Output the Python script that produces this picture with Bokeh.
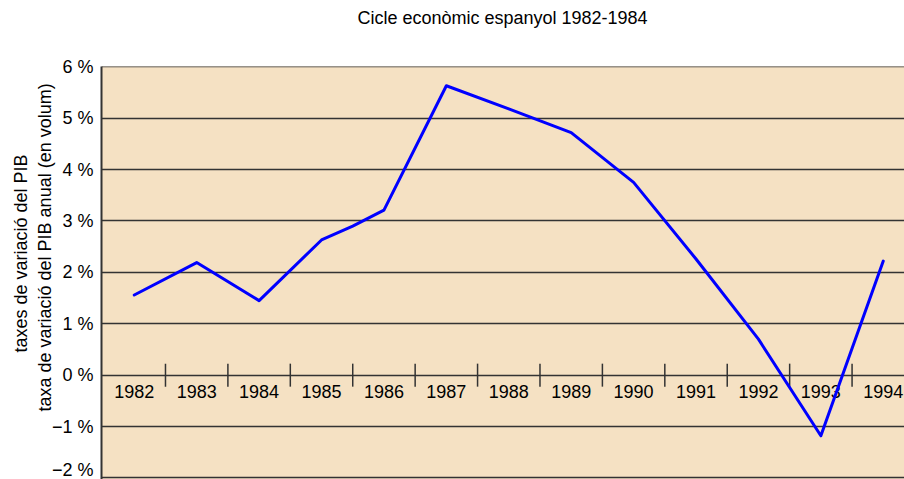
import math
from bokeh.plotting import figure
from bokeh.models import FixedTicker, Range1d, ColumnDataSource, Title, Div
from bokeh.layouts import column
from bokeh.core.properties import value
from bokeh.embed import file_html
from bokeh.resources import INLINE

# ---- data ----
title_text = "Cicle econòmic espanyol 1982-1984"
ylabel_1 = "taxes de variació del PIB"
ylabel_2 = "taxa de variació del PIB anual (en volum)"

years = [1982, 1983, 1984, 1985, 1986, 1987, 1988, 1989, 1990, 1991, 1992, 1993, 1994]
year_labels = [str(y) for y in years]

# line points (year position, % growth), incl. one mid-year point
line_x = [1982, 1983, 1984, 1985, 1985.5, 1986, 1987, 1988, 1989, 1990, 1991, 1992, 1993, 1994]
line_y = [1.56, 2.19, 1.45, 2.63, 2.90, 3.21, 5.63, 5.18, 4.72, 3.75, 2.26, 0.70, -1.18, 2.22]

y_ticks = [-2, -1, 0, 1, 2, 3, 4, 5, 6]
y_tick_labels = ["\u22122 %", "\u22121 %", "0 %", "1 %", "2 %", "3 %", "4 %", "5 %", "6 %"]

FONT = "Liberation Sans"
FS = "18px"
BG = "#F5E1C3"
DARK = "#333333"

title_div = Div(text=title_text, width=904, height=40, margin=0,
                styles={"box-sizing": "border-box", "padding-top": "8px", "padding-left": "101px",
                        "text-align": "center", "font-family": "'Liberation Sans'",
                        "font-size": FS, "line-height": "20px", "color": "black", "width": "904px"})

p = figure(width=904, height=439, output_backend="svg", toolbar_location=None,
           x_range=Range1d(1981.475, 1994.34), y_range=Range1d(-2.03, 6.005),
           x_axis_location=None, y_axis_location="left",
           min_border_left=101, min_border_right=0, min_border_top=26, min_border_bottom=0)
p.background_fill_color = BG
p.border_fill_color = "white"
p.outline_line_color = None

ax = p.yaxis[0]
ax.ticker = FixedTicker(ticks=y_ticks)
ax.major_label_overrides = {t: s for t, s in zip(y_ticks, y_tick_labels)}
ax.major_tick_line_color = None
ax.major_tick_out = 0
ax.major_tick_in = 0
ax.minor_tick_line_color = None
ax.minor_tick_out = 0
ax.axis_line_color = DARK
ax.axis_line_width = 2
ax.major_label_standoff = 8
ax.major_label_text_font = FONT
ax.major_label_text_font_size = FS
ax.major_label_text_color = "black"

# two-line y label as titles on the left, anchored from the frame bottom
for txt, off, so in [(ylabel_2, 68, -12), (ylabel_1, 127, 16)]:
    t = Title(text=txt, align="left", offset=off, text_font=FONT, text_font_size=FS,
              text_font_style="normal", text_color="black")
    try:
        t.standoff = so
    except Exception:
        t.standoff = 0
    p.add_layout(t, "left")

p.xgrid.visible = False
p.ygrid.ticker = FixedTicker(ticks=y_ticks)
p.ygrid.grid_line_color = DARK
p.ygrid.grid_line_width = 1.5

# year boundary ticks on the 0 % line
bounds = [y + 0.5 for y in years[:-1]]
p.scatter(x=bounds, y=[0] * len(bounds), marker="dash", angle=math.pi / 2, size=23,
          line_color=DARK, line_width=1.5)

# year labels below the 0 % line
src = ColumnDataSource(dict(x=years, y=[0] * len(years), t=year_labels))
p.text(x="x", y="y", text="t", source=src, text_align="center", text_baseline="middle",
       y_offset=16, text_font=value(FONT), text_font_size=FS, text_color="black")

# GDP line
p.line(line_x, line_y, line_color="#0000FF", line_width=3, line_join="round", line_cap="round")

layout = column(title_div, p, spacing=0)
open("out.html", "w").write(file_html(layout, INLINE))
